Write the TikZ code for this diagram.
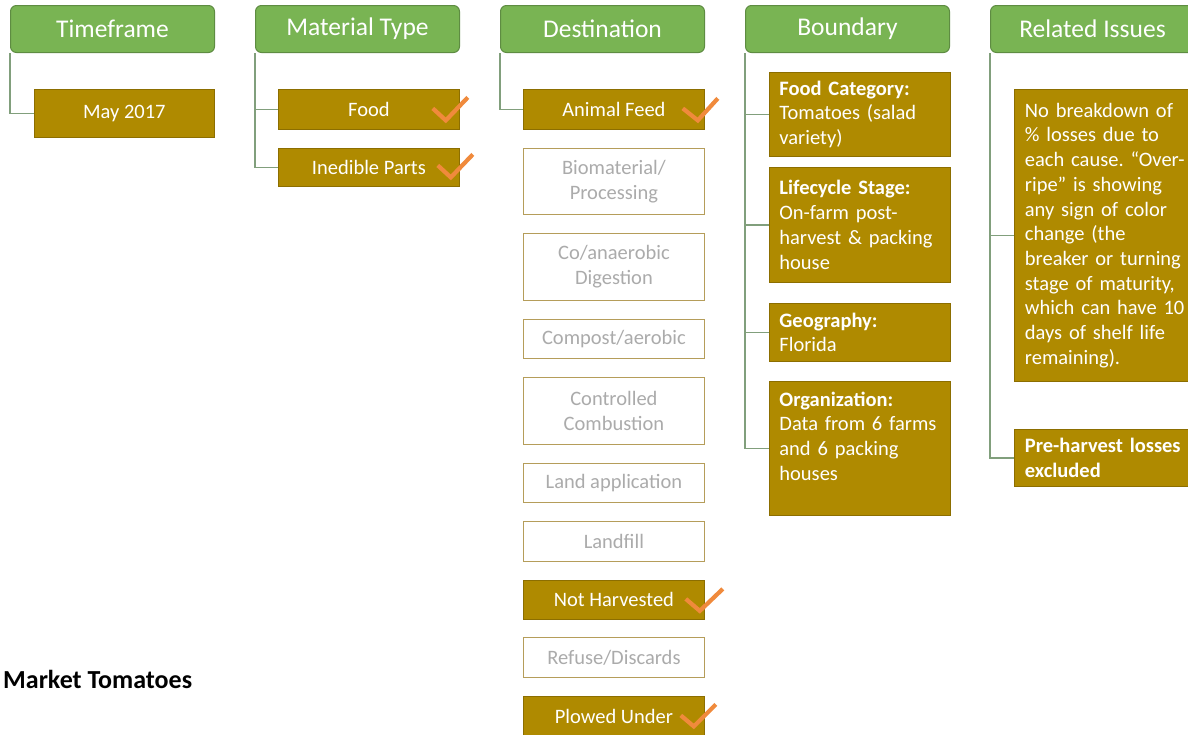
\documentclass[tikz,border=0pt]{standalone}
\usepackage{fontspec}
\setmainfont{Carlito}
\frenchspacing
\definecolor{hdrgreen}{HTML}{79B453}
\definecolor{hdrborder}{HTML}{5E8C42}
\definecolor{goldfill}{HTML}{AF8A00}
\definecolor{goldborder}{HTML}{8C6E00}
\definecolor{wborder}{HTML}{B59D5A}
\definecolor{graytext}{HTML}{ABABAB}
\definecolor{conncol}{HTML}{819F7C}
\definecolor{chkcol}{HTML}{F08A3C}
\begin{document}
\begin{tikzpicture}[x=1pt,y=-1pt,
  hdr/.style={rectangle, rounded corners=6pt, fill=hdrgreen, draw=hdrborder, line width=1pt,
    minimum width=204pt, minimum height=47pt, inner sep=0pt, anchor=north west,
    text=white, font=\fontsize{25.5}{30}\selectfont},
  goldbox/.style={rectangle, fill=goldfill, draw=goldborder, line width=0.8pt,
    minimum width=181pt, inner sep=0pt, anchor=north west, align=center,
    text=white, font=\fontsize{20.5}{24.7}\selectfont},
  whitebox/.style={rectangle, fill=white, draw=wborder, line width=0.8pt,
    minimum width=181pt, inner sep=0pt, anchor=north west, align=center,
    text=graytext, font=\fontsize{20.5}{24.7}\selectfont},
  infobox/.style={goldbox, align=left, text width=161pt, inner xsep=10pt, inner ysep=0pt},
  conn/.style={draw=conncol, line width=1.5pt},
  chk/.style={draw=chkcol, line width=4.2pt, line join=miter}]
\useasboundingbox (0,0) rectangle (1188,734);
\fill[white] (0,0) rectangle (1188,734);

% headers
\node[hdr] (tf) at (10,5) {Timeframe};
\node[hdr] (mt) at (255,5) {Material Type};
\node[hdr] (dst) at (500,5) {Destination};
\node[hdr] (bd) at (745,5) {Boundary};
\node[hdr] (ri) at (990,5) {Related Issues};

% timeframe
\node[goldbox, minimum width=180pt, minimum height=48pt] (may) at (34,89) {May 2017};

% material type
\node[goldbox, minimum height=40pt] (food) at (278,89) {Food};
\node[goldbox, minimum height=38pt] (ined) at (278,148) {Inedible Parts};

% destination
\node[goldbox, minimum height=40pt] (afeed) at (523,89) {Animal Feed};
\node[whitebox, minimum height=66pt] (bio) at (523,148) {Biomaterial/\\Processing};
\node[whitebox, minimum height=67pt] (coan) at (523,233) {Co/anaerobic\\Digestion};
\node[whitebox, minimum height=39pt] (comp) at (523,319) {Compost/aerobic};
\node[whitebox, minimum height=67pt] (ccomb) at (523,377) {Controlled\\Combustion};
\node[whitebox, minimum height=39pt] (land) at (523,463) {Land application};
\node[whitebox, minimum height=40pt] (lfill) at (523,521) {Landfill};
\node[goldbox, minimum height=39pt] (nharv) at (523,580) {Not Harvested};
\node[whitebox, minimum height=40pt] (refuse) at (523,637) {Refuse/Discards};
\node[goldbox, minimum height=40pt] (plow) at (523,696) {Plowed Under};

% boundary
\node[infobox, minimum height=84pt] (fcat) at (769,72) {\textbf{Food Category:}\\Tomatoes (salad\\variety)};
\node[infobox, minimum height=115pt] (life) at (769,167) {\textbf{Lifecycle Stage:}\\On-farm post-\\harvest \& packing\\house};
\node[infobox, minimum height=58pt] (geo) at (769,303) {\textbf{Geography:}\\Florida};
\node[infobox, minimum height=134pt] (org) at (769,381) {\textbf{Organization:}\\Data from 6 farms\\and 6 packing\\houses\\\mbox{}};

% related issues
\node[infobox, text width=160pt, minimum height=292pt] (nobreak) at (1014,89) {No breakdown of\\\% losses due to\\each cause. “Over-\\ripe" is showing\\any sign of color\\change (the\\breaker or turning\\stage of maturity,\\which can have 10\\days of shelf life\\remaining).};
\node[infobox, text width=160pt, minimum height=57pt] (preh) at (1014,429) {\textbf{Pre-harvest losses}\\\textbf{excluded}};

% connectors
\draw[conn] (tf.south west) |- (may.west);
\draw[conn] (mt.south west) |- (food.west);
\draw[conn] (mt.south west) |- (ined.west);
\draw[conn] (dst.south west) |- (afeed.west);
\draw[conn] (bd.south west) |- (fcat.west);
\draw[conn] (bd.south west) |- (life.west);
\draw[conn] (bd.south west) |- (geo.west);
\draw[conn] (bd.south west) |- (org.west);
\draw[conn] (ri.south west) |- (nobreak.west);
\draw[conn] (ri.south west) |- (preh.west);

% check marks
\draw[chk] ([shift={(-27,-1)}]food.east) -- ([shift={(-14,11)}]food.east) -- ([shift={(8,-12)}]food.east);
\draw[chk] ([shift={(-22,-2)}]ined.east) -- ([shift={(-9,10)}]ined.east) -- ([shift={(13,-13)}]ined.east);
\draw[chk] ([shift={(-22,-1)}]afeed.east) -- ([shift={(-7,11)}]afeed.east) -- ([shift={(13,-11)}]afeed.east);
\draw[chk] ([shift={(-19,-1)}]nharv.east) -- ([shift={(-5,11)}]nharv.east) -- ([shift={(18,-11)}]nharv.east);
\draw[chk] ([shift={(-24,-1)}]plow.east) -- ([shift={(-11,10)}]plow.east) -- ([shift={(11,-12)}]plow.east);

% caption
\node[anchor=west, inner sep=0pt, font=\fontsize{26}{30}\selectfont\bfseries] (mkt) at (3,679) {Market Tomatoes};
\end{tikzpicture}
\end{document}
